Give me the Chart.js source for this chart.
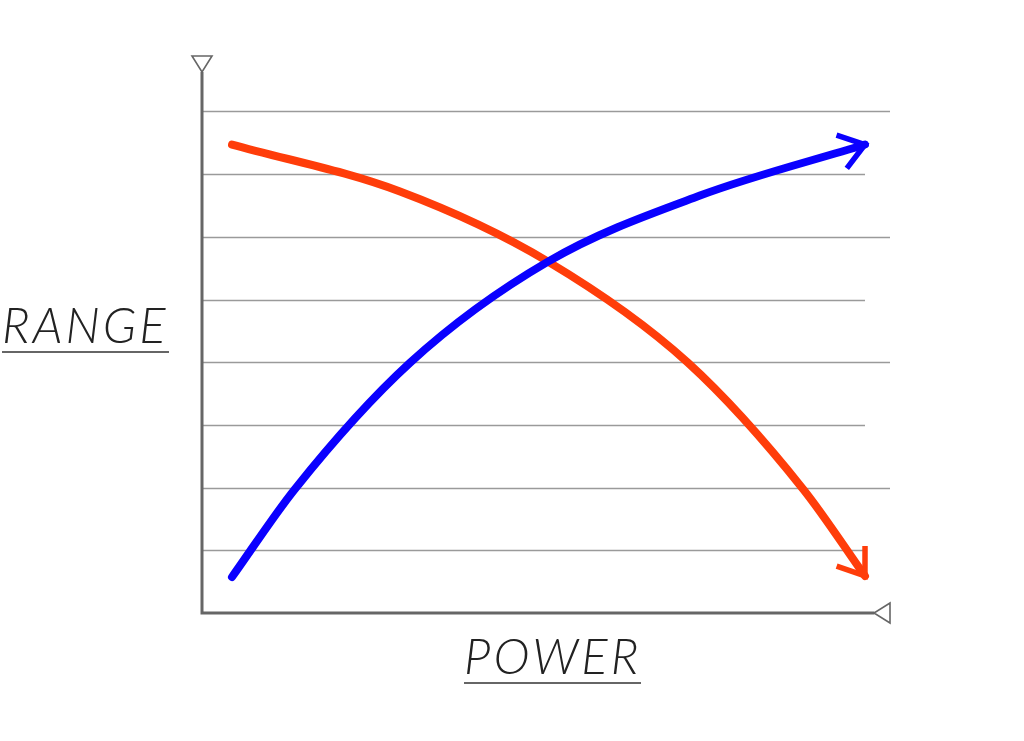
<!DOCTYPE html>
<html>
<head>
<meta charset="utf-8">
<script src="https://cdn.jsdelivr.net/npm/chart.js@4.4.1/dist/chart.umd.min.js"></script>
<style>
  html, body { margin: 0; padding: 0; background: #fff; }
  #wrap { position: relative; width: 1024px; height: 741px; }
  .lbl {
    position: absolute;
    font-family: "Lato", "Open Sans", sans-serif;
    font-weight: 300;
    font-style: italic;
    font-size: 49px;
    color: #222;
    letter-spacing: 3px;
    border-bottom: 2.5px solid #666;
    line-height: 1;
    padding-bottom: 2px;
  }
</style>
</head>
<body>
<div id="wrap">
  <canvas id="c" width="1024" height="741"></canvas>
  <div class="lbl" id="yLbl" style="left:2px; top:300px;">RANGE</div>
  <div class="lbl" id="xLbl" style="left:464px; top:631px;">POWER</div>
</div>
<script>
// x in grid units, y in gridline steps (0 = x axis, 8 = top gridline)
const blueX = [0.48, 1.487, 3.326, 5.532, 7.962, 10.6];
const blueY = [0.575, 1.98, 3.992, 5.605, 6.659, 7.473];

const redX = [0.48, 3.166, 5.532, 7.77, 9.609, 10.6];
const redY = [7.473, 6.723, 5.605, 3.992, 1.98, 0.591];

const gridTicks = [1, 2, 3, 4, 5, 6, 7, 8];

const BLUE = "#0a00ff";
const RED = "#ff3d0a";
const AXIS = "#666666";

const toPts = (xs, ys) => xs.map((x, i) => ({ x, y: ys[i] }));

// ── grid, axes and arrow tips ────────────────────────────
const sketchPlugin = {
  id: "sketch",
  beforeDatasetsDraw(chart) {
    const { ctx: c, scales } = chart;
    const x0 = scales.x.getPixelForValue(0);
    const y0 = scales.y.getPixelForValue(0);
    const top = chart.chartArea.top;

    c.save();
    c.strokeStyle = "#9a9a9a";
    c.lineWidth = 1.5;
    gridTicks.forEach((t, i) => {
      const py = Math.round(scales.y.getPixelForValue(t)) + 0.5;
      // alternating long / short gridlines, as in the sketch
      const end = i % 2 === 0 ? scales.x.getPixelForValue(10.6) : scales.x.getPixelForValue(11);
      c.beginPath();
      c.moveTo(x0, py);
      c.lineTo(end, py);
      c.stroke();
    });

    // axes
    c.strokeStyle = AXIS;
    c.lineWidth = 3;
    c.beginPath();
    c.moveTo(x0, top);
    c.lineTo(x0, y0);
    c.lineTo(scales.x.getPixelForValue(10.75), y0);
    c.stroke();

    // open triangles at the axis ends
    c.lineWidth = 1.6;
    c.fillStyle = "#fff";
    c.beginPath();
    c.moveTo(x0 - 10, top - 16);
    c.lineTo(x0 + 10, top - 16);
    c.lineTo(x0, top);
    c.closePath();
    c.fill();
    c.stroke();

    const xr = scales.x.getPixelForValue(11);
    c.beginPath();
    c.moveTo(xr, y0 - 10);
    c.lineTo(xr, y0 + 10);
    c.lineTo(xr - 16, y0);
    c.closePath();
    c.fill();
    c.stroke();
    c.restore();
  },
  afterDatasetsDraw(chart) {
    const { ctx: c } = chart;
    chart.data.datasets.forEach((ds, di) => {
      const pts = chart.getDatasetMeta(di).data;
      const a = pts[pts.length - 1];
      const b = pts[pts.length - 2];
      // aim along the spline's last control point when there is one
      const bx = a.cp1x !== undefined ? a.cp1x : b.x;
      const by = a.cp1y !== undefined ? a.cp1y : b.y;
      const ang = Math.atan2(a.y - by, a.x - bx);
      const len = 30;
      c.save();
      c.strokeStyle = ds.borderColor;
      c.lineWidth = 5.5;
      c.lineJoin = "miter";
      c.beginPath();
      c.moveTo(a.x - len * Math.cos(ang - 0.62), a.y - len * Math.sin(ang - 0.62));
      c.lineTo(a.x, a.y);
      c.lineTo(a.x - len * Math.cos(ang + 0.62), a.y - len * Math.sin(ang + 0.62));
      c.stroke();
      c.restore();
    });
  },
};

new Chart(document.getElementById("c"), {
  type: "line",
  data: {
    datasets: [
      {
        data: toPts(blueX, blueY),
        borderColor: BLUE,
        borderWidth: 8,
        borderCapStyle: "round",
        cubicInterpolationMode: "monotone",
        pointRadius: 0,
        fill: false,
      },
      {
        data: toPts(redX, redY),
        borderColor: RED,
        borderWidth: 8,
        borderCapStyle: "round",
        cubicInterpolationMode: "monotone",
        pointRadius: 0,
        fill: false,
      },
    ],
  },
  options: {
    responsive: false,
    animation: false,
    layout: { padding: { left: 202, right: 134, top: 72, bottom: 128 } },
    plugins: { legend: { display: false }, tooltip: { enabled: false } },
    scales: {
      x: { type: "linear", min: 0, max: 11, display: false },
      y: { type: "linear", min: 0, max: 8.63, display: false },
    },
  },
  plugins: [sketchPlugin],
});
</script>
</body>
</html>
